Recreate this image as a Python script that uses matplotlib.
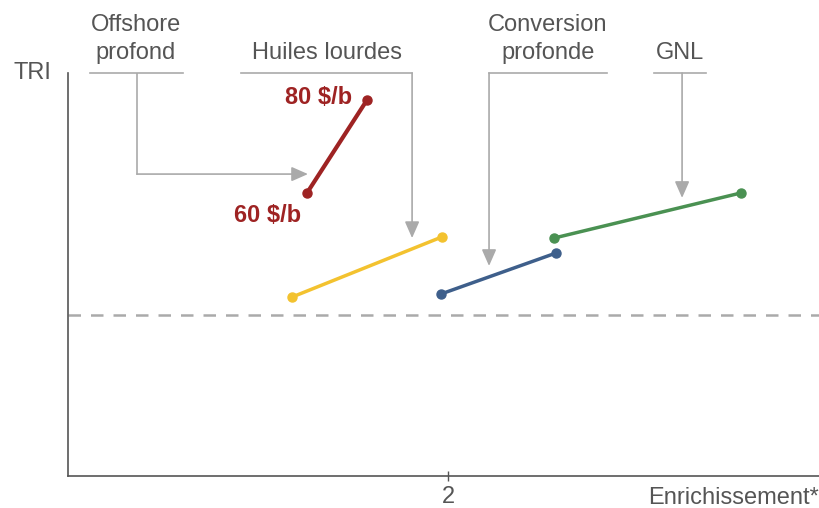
import matplotlib
matplotlib.use("Agg")
import matplotlib.pyplot as plt

plt.rcParams['font.family'] = ['Liberation Sans', 'DejaVu Sans']

# segments (enrichissement, TRI) : debut -> fin
noms = ["Offshore profond", "Huiles lourdes", "Conversion profonde", "GNL"]
x_debut = [1.258, 1.179, 1.963, 2.558]
x_fin = [1.574, 1.968, 2.568, 3.542]
y_debut = [1.756, 1.110, 1.129, 1.476]
y_fin = [2.333, 1.483, 1.383, 1.756]
couleurs = ["#9e2323", "#f3c22f", "#3e5f8b", "#4a9152"]
seuil = 1.0

gris = "#aaaaaa"
texte = "#555555"
fs = 17

fig = plt.figure(figsize=(8.2, 5.08), dpi=100)
ax = fig.add_axes([68/820, 32/508, 752/820, 403/508])
ax.set_xlim(0, 752/190)
ax.set_ylim(0, 403/161.2)

for i in range(len(noms)):
    lw = 3.0 if i == 0 else 2.5
    ax.plot([x_debut[i], x_fin[i]], [y_debut[i], y_fin[i]], color=couleurs[i],
            lw=lw, marker="o", markersize=6.5, solid_capstyle="round", zorder=3)

ax.axhline(seuil, color=gris, lw=1.8, ls=(0, (5, 4)), zorder=1)

# prix
ax.text(x_fin[0] - 0.08, y_fin[0] + 0.012, "80 $/b", color=couleurs[0], fontsize=fs,
        fontweight="bold", ha="right", va="center")
ax.text(x_debut[0] - 0.032, y_debut[0] - 0.137, "60 $/b", color=couleurs[0], fontsize=fs,
        fontweight="bold", ha="right", va="center")

# étiquettes + flèches
etiquettes = ["Offshore\nprofond", "Huiles lourdes", "Conversion\nprofonde", "GNL"]
txt_x = [0.358, 1.363, 2.526, 3.221]
soul = [(0.116, 0.605), (0.911, 1.811), (2.216, 2.837), (3.084, 3.358)]
tige_x = [0.363, 1.811, 2.216, 3.232]
ytop = 2.5
ahead = dict(arrowstyle="-|>,head_length=0.5,head_width=0.22", color=gris, lw=1.2,
             shrinkA=0, shrinkB=0, mutation_scale=20)
for i in range(4):
    ax.text(txt_x[i], 2.555, etiquettes[i], ha="center", va="bottom", fontsize=fs,
            color=texte, linespacing=1.35, clip_on=False)
    ax.plot(soul[i], [ytop, ytop], color=gris, lw=1.2, clip_on=False)
    if i == 0:
        coude = 1.873
        ax.plot([tige_x[i], tige_x[i]], [ytop, coude], color=gris, lw=1.2)
        ax.annotate("", xy=(1.263, coude), xytext=(tige_x[i], coude), arrowprops=ahead)
    else:
        pointe = [None, 1.476, 1.303, 1.725][i]
        ax.annotate("", xy=(tige_x[i], pointe), xytext=(tige_x[i], ytop), arrowprops=ahead)

for s in ["top", "right"]:
    ax.spines[s].set_visible(False)
for s in ["left", "bottom"]:
    ax.spines[s].set_color("#555555")
    ax.spines[s].set_linewidth(1.2)

ax.set_yticks([])
ax.set_xticks([2])
ax.set_xticklabels(["2"])
ax.tick_params(axis="x", direction="inout", length=7, width=1, color="#555555",
               labelsize=fs, labelcolor=texte, pad=4)

fig.text(32/820, 1 - 73/508, "TRI", ha="center", va="center", fontsize=fs, color=texte)
fig.text(819/820, 1 - 498/508, "Enrichissement*", ha="right", va="center", fontsize=fs,
         color=texte)

fig.savefig("out.png", dpi=100)
